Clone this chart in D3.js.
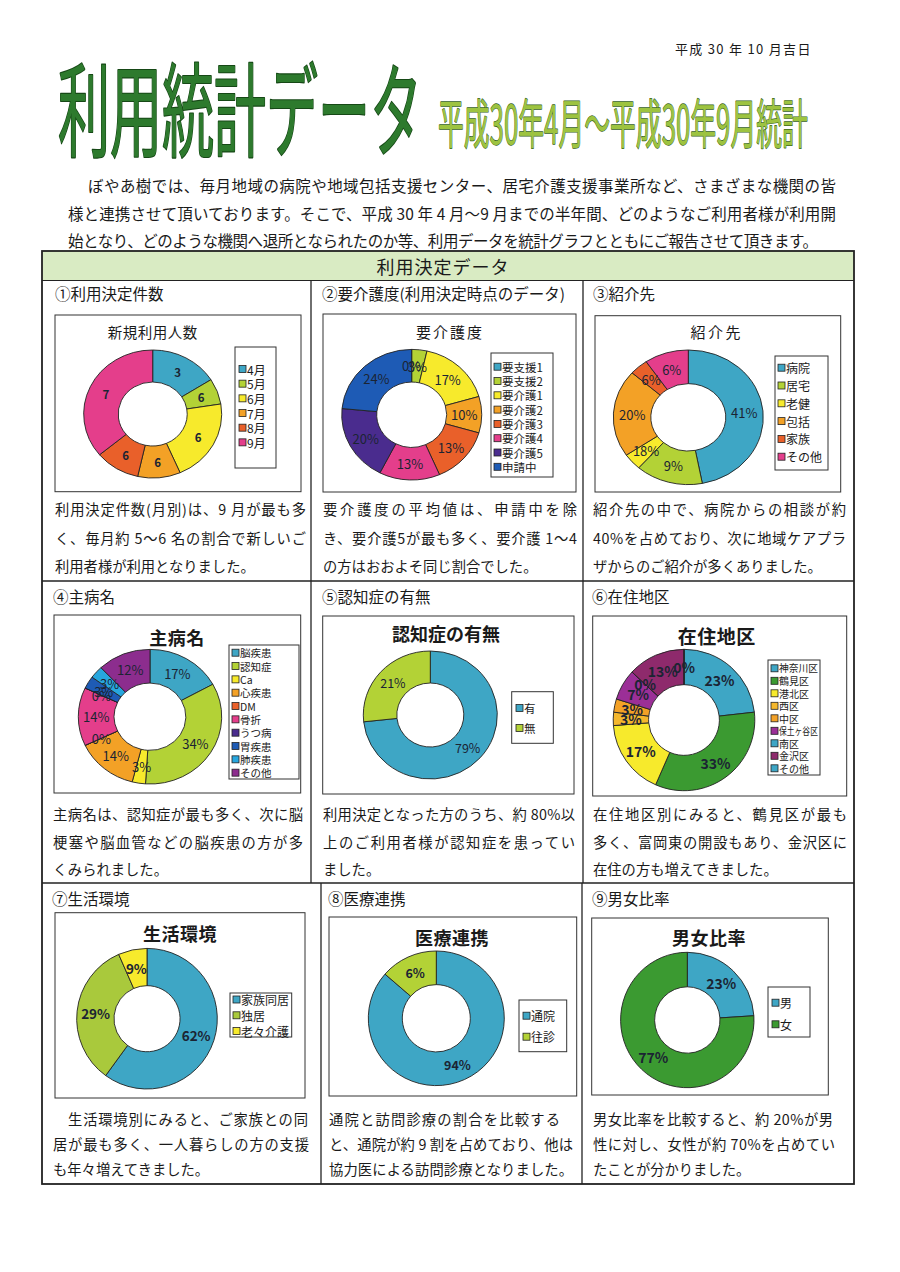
<!DOCTYPE html>
<html><head><meta charset="utf-8">
<script src="https://cdn.jsdelivr.net/npm/d3@7"></script>
<style>
html,body{margin:0;padding:0;background:#fff;}
svg{display:block;font-family:"Noto Sans CJK JP","Noto Sans",sans-serif;}
</style></head><body>
<svg id="page" width="900" height="1272"></svg>
<script>
// ---------------- DATA ----------------
// slice shares are read from the drawn slice angles; labels are the printed texts
const c1Cats = ["4月","5月","6月","7月","8月","9月"];
const c1Shares = [16, 6.5, 21, 10, 10.5, 36];
const c1Labels = ["3","6","6","6","6","7"];

const c2Cats = ["要支援1","要支援2","要介護1","要介護2","要介護3","要介護4","要介護5","申請中"];
const c2Shares = [0, 3.5, 17, 9, 14, 14, 19, 23.5];
const c2Labels = ["0%","3%","17%","10%","13%","13%","20%","24%"];

const c3Cats = ["病院","居宅","老健","包括","家族","その他"];
const c3Shares = [47, 14.5, 4, 21, 4, 9.5];
const c3Labels = ["41%","9%","18%","20%","6%","6%"];

const c4Cats = ["脳疾患","認知症","Ca","心疾患","DM","骨折","うつ病","胃疾患","肺疾患","その他"];
const c4Shares = [17, 34, 3, 14, 0, 14, 0, 3, 3, 12];
const c4Labels = ["17%","34%","3%","14%","0%","14%","0%","3%","3%","12%"];

const c5Cats = ["有","無"];
const c5Shares = [73.3, 26.7];
const c5Labels = ["79%","21%"];

const c6Cats = ["神奈川区","鶴見区","港北区","西区","中区","保土ヶ谷区","南区","金沢区","その他"];
const c6Shares = [23, 33, 17, 3, 3, 7, 0, 13, 0];
const c6Labels = ["23%","33%","17%","3%","3%","7%","0%","13%","0%"];

const c7Cats = ["家族同居","独居","老々介護"];
const c7Shares = [60, 33.4, 6.6];
const c7Labels = ["62%","29%","9%"];

const c8Cats = ["通院","往診"];
const c8Shares = [86.4, 13.6];
const c8Labels = ["94%","6%"];

const c9Cats = ["男","女"];
const c9Shares = [24, 76];
const c9Labels = ["23%","77%"];

const chartTitles = ["新規利用人数","要介護度","紹介先","主病名","認知症の有無","在住地区","生活環境","医療連携","男女比率"];
const headings = ["①利用決定件数","②要介護度(利用決定時点のデータ)","③紹介先","④主病名","⑤認知症の有無","⑥在住地区","⑦生活環境","⑧医療連携","⑨男女比率"];
const captions = [
  ["利用決定件数(月別)は、9 月が最も多","く、毎月約 5～6 名の割合で新しいご","利用者様が利用となりました。"],
  ["要介護度の平均値は、申請中を除","き、要介護5が最も多く、要介護 1～4","の方はおおよそ同じ割合でした。"],
  ["紹介先の中で、病院からの相談が約","40%を占めており、次に地域ケアプラ","ザからのご紹介が多くありました。"],
  ["主病名は、認知症が最も多く、次に脳","梗塞や脳血管などの脳疾患の方が多","くみられました。"],
  ["利用決定となった方のうち、約 80%以","上のご利用者様が認知症を患ってい","ました。"],
  ["在住地区別にみると、鶴見区が最も","多く、富岡東の開設もあり、金沢区に","在住の方も増えてきました。"],
  ["　生活環境別にみると、ご家族との同","居が最も多く、一人暮らしの方の支援","も年々増えてきました。"],
  ["通院と訪問診療の割合を比較する","と、通院が約 9 割を占めており、他は","協力医による訪問診療となりました。"],
  ["男女比率を比較すると、約 20%が男","性に対し、女性が約 70%を占めてい","たことが分かりました。"]
];
const pageDate = "平成 30 年 10 月吉日";
const pageTitle = "利用統計データ";
const pageSubtitle = "平成30年4月～平成30年9月統計";
const intro = [
  "ぼやあ樹では、毎月地域の病院や地域包括支援センター、居宅介護支援事業所など、さまざまな機関の皆",
  "様と連携させて頂いております。そこで、平成 30 年 4 月～9 月までの半年間、どのようなご利用者様が利用開",
  "始となり、どのような機関へ退所となられたのか等、利用データを統計グラフとともにご報告させて頂きます。"
];
const sectionTitle = "利用決定データ";

// ---------------- STYLE ----------------
const C = {
  teal:"#3ea6c5", yg:"#b3d236", yellow:"#f7ea2c", orange:"#f3a126", red:"#e9602a",
  pink:"#e43e8b", dpurple:"#4a2c8e", blue:"#1e5bb5", lblue:"#27a6de", purple:"#8c2d8e",
  green:"#3b9a31", gold:"#f4b72c", maroon:"#8e2a6c", hpurple:"#9b2f97"
};
const ink = "#1a1a1a";
const svg = d3.select("#page");
svg.append("rect").attr("width",900).attr("height",1272).attr("fill","#fff");

function txt(s, x, y, o = {}) {
  const t = svg.append("text").attr("x", x).attr("y", y).text(s)
    .attr("dominant-baseline", "central")
    .attr("font-size", o.size || 14.3)
    .attr("fill", o.fill || ink);
  if (o.anchor) t.attr("text-anchor", o.anchor);
  if (o.weight) t.attr("font-weight", o.weight);
  if (o.ls) t.attr("letter-spacing", o.ls);
  if (o.len) t.attr("textLength", o.len).attr("lengthAdjust", "spacing");
  if (o.stroke) t.attr("stroke", o.stroke).attr("stroke-width", o.sw || 1).attr("paint-order", "stroke").attr("stroke-linejoin","round");
  if (o.fit) {
    // squeeze horizontally to the target width (condensed display face)
    const natural = t.node().getComputedTextLength();
    const k = o.fit / natural;
    t.attr("transform", `translate(${x},0) scale(${k},1) translate(${-x},0)`);
  }
  return t;
}

// ---------------- HEADER ----------------
txt(pageDate, 675, 48, {size: 13, ls: 1.3});
txt(pageTitle, 58, 104, {size: 102, fit: 364, fill: "#2d7a2d", stroke: "#164816", sw: 2.2});
txt(pageSubtitle, 438, 121, {size: 53, fit: 370, fill: "#9dc340", stroke: "#34601a", sw: 1.4});
txt(intro[0], 88, 185, {size: 15.5, len: 748});
txt(intro[1], 68, 213, {size: 15.5, len: 768});
txt(intro[2], 68, 240, {size: 15.5, len: 750});

// ---------------- FRAME ----------------
svg.append("rect").attr("x", 42).attr("y", 251).attr("width", 812).attr("height", 29).attr("fill", "#d9ebc3");
const frame = svg.append("g").attr("stroke", "#222").attr("fill", "none");
frame.append("rect").attr("x", 42).attr("y", 251).attr("width", 812).attr("height", 933).attr("stroke-width", 1.8);
frame.append("line").attr("x1", 42).attr("x2", 854).attr("y1", 280.5).attr("y2", 280.5).attr("stroke-width", 1.2);
frame.append("line").attr("x1", 42).attr("x2", 854).attr("y1", 581).attr("y2", 581).attr("stroke-width", 1.4);
frame.append("line").attr("x1", 42).attr("x2", 854).attr("y1", 883).attr("y2", 883).attr("stroke-width", 1.4);
[[311, 280.5, 883], [583, 280.5, 883], [321, 883, 1184], [582, 883, 1184]].forEach(([x, a, b]) =>
  frame.append("line").attr("x1", x).attr("x2", x).attr("y1", a).attr("y2", b).attr("stroke-width", 1.3));
txt(sectionTitle, 443, 265.5, {size: 18, anchor: "middle", ls: 1});

// ---------------- PANELS ----------------
const panels = [
  {hx:55, hy:293, cx0:55, capY:[508,537,565], w:[251,251,null], box:[55,315,301,491.7]},
  {hx:322, hy:293, cx0:323, capY:[508,537,565], w:[254,254,null], box:[323,314,576,492]},
  {hx:593, hy:293, cx0:593, capY:[508,537,565], w:[253,253,null], box:[595,315.7,840.7,492]},
  {hx:53, hy:596, cx0:53, capY:[813,841.5,868], w:[250,250,null], box:[54,615,300.7,793]},
  {hx:322, hy:596, cx0:323, capY:[813,841.5,868], w:[252,252,null], box:[322.7,616,574,794]},
  {hx:592, hy:596, cx0:593, capY:[813,841.5,868], w:[254,254,null], box:[592.7,616,846.7,796]},
  {hx:52, hy:898, cx0:53, capY:[1118,1143,1168], w:[255,256,null], box:[55,912.7,305,1098]},
  {hx:328, hy:898, cx0:329, capY:[1118,1143,1168], w:[231,244,244], box:[329,917,576.7,1096]},
  {hx:592, hy:898, cx0:593, capY:[1118,1143,1168], w:[240,242,null], box:[591.7,918,828.3,1095]}
];
panels.forEach((p, i) => {
  txt(headings[i], p.hx, p.hy, {size: 15.5});
  captions[i].forEach((line, j) => {
    const o = {size: 14.3};
    if (p.w[j]) o.len = p.w[j];
    txt(line, p.cx0, p.capY[j], o);
  });
  const [x1, y1, x2, y2] = p.box;
  svg.append("rect").attr("x", x1).attr("y", y1).attr("width", x2 - x1).attr("height", y2 - y1)
    .attr("fill", "#fff").attr("stroke", "#333").attr("stroke-width", 1);
});

// chart titles
const titleSpec = [
  [152.7, 331.7, 14.5, 400, 0.5], [450, 331, 15, 400, 2], [716.7, 331.7, 15, 400, 2.5],
  [177, 636.7, 18, 700, 0.5], [446, 633.3, 18, 700, 0], [716.7, 635, 19, 700, 0.5],
  [180, 932.7, 18, 700, 0.5], [452, 936.7, 18, 700, 0.5], [709, 936.7, 18, 700, 0.5]
];
titleSpec.forEach(([x, y, s, w, ls], i) => txt(chartTitles[i], x, y, {size: s, weight: w, anchor: "middle", ls: ls}));

// ---------------- DONUTS ----------------
function donut(cfg) {
  const {cx, cy, rx, ry, inner, shares, labels, colors, lsize, lweight, lfill} = cfg;
  const sx = rx / ry;
  const arcs = d3.pie().sort(null).value(d => d)(shares);
  const arc = d3.arc().innerRadius(ry * inner).outerRadius(ry);
  const g = svg.append("g").attr("transform", `translate(${cx},${cy})`);
  g.append("g").attr("transform", `scale(${sx},1)`)
    .selectAll("path").data(arcs).join("path")
    .attr("d", arc)
    .attr("fill", (d, i) => colors[i])
    .attr("stroke", "#222").attr("stroke-width", 0.9)
    .attr("vector-effect", "non-scaling-stroke");
  g.selectAll("text").data(arcs).join("text")
    .attr("x", d => arc.centroid(d)[0] * sx)
    .attr("y", d => arc.centroid(d)[1])
    .attr("text-anchor", "middle").attr("dominant-baseline", "central")
    .attr("font-size", lsize).attr("font-weight", lweight || 400)
    .attr("fill", lfill || "#1b2433")
    .text((d, i) => labels[i]);
}
function legend(cfg) {
  const {box, sx, tx, y0, dy, size, cats, colors, weight} = cfg;
  const [x1, y1, x2, y2] = box;
  svg.append("rect").attr("x", x1).attr("y", y1).attr("width", x2 - x1).attr("height", y2 - y1)
    .attr("fill", "#fff").attr("stroke", "#333").attr("stroke-width", 1);
  const g = svg.append("g");
  const maxW = x2 - tx - 2;
  cats.forEach((c, i) => {
    const y = y0 + i * dy;
    g.append("rect").attr("x", sx).attr("y", y - 3.5).attr("width", 7).attr("height", 7)
      .attr("fill", colors[i]).attr("stroke", "#222").attr("stroke-width", 0.8);
    const t = g.append("text").attr("x", tx).attr("y", y).attr("dominant-baseline", "central")
      .attr("font-size", size).attr("font-weight", weight || 400).attr("fill", ink).text(c);
    const w = t.node().getComputedTextLength();
    if (w > maxW) t.attr("transform", `translate(${tx},0) scale(${maxW / w},1) translate(${-tx},0)`);
  });
}

const col1 = [C.teal, C.yg, C.yellow, C.orange, C.red, C.pink];
const col2 = [C.teal, C.yg, C.yellow, C.orange, C.red, C.pink, C.dpurple, C.blue];
const col3 = [C.teal, C.yg, C.yellow, C.orange, C.red, C.pink];
const col4 = [C.teal, C.yg, C.yellow, C.orange, C.red, C.pink, C.dpurple, C.blue, C.lblue, C.purple];
const col5 = [C.teal, C.yg];
const col6 = [C.teal, C.green, C.yellow, C.gold, C.orange, C.hpurple, C.teal, C.maroon, C.teal];
const col7 = [C.teal, "#a9c93c", C.yellow];
const col8 = [C.teal, C.yg];
const col9 = [C.teal, C.green];

donut({cx:152.7, cy:414, rx:69, ry:64, inner:0.5, shares:c1Shares, labels:c1Labels, colors:col1, lsize:11.5, lweight:700});
legend({box:[235,347,276,468], sx:239, tx:247, y0:369, dy:14.67, size:12, cats:c1Cats, colors:col1});

donut({cx:411.7, cy:414.7, rx:70, ry:65.3, inner:0.5, shares:c2Shares, labels:c2Labels, colors:col2, lsize:13});
legend({box:[491,353,553,477], sx:494, tx:502, y0:366.7, dy:14.3, size:11.5, cats:c2Cats, colors:col2});

donut({cx:688.3, cy:417.3, rx:75, ry:67.3, inner:0.5, shares:c3Shares, labels:c3Labels, colors:col3, lsize:13});
legend({box:[775,356,828,470], sx:778, tx:786, y0:367.7, dy:17.8, size:12, cats:c3Cats, colors:col3});

donut({cx:150, cy:716.7, rx:71.7, ry:67.3, inner:0.5, shares:c4Shares, labels:c4Labels, colors:col4, lsize:13});
legend({box:[229,645,299,779], sx:232, tx:240, y0:652.7, dy:13.33, size:10.5, cats:c4Cats, colors:col4});

donut({cx:430.3, cy:715, rx:67, ry:64, inner:0.5, shares:c5Shares, labels:c5Labels, colors:col5, lsize:12.5});
legend({box:[511.7,691.7,553.3,743.3], sx:516, tx:524, y0:708, dy:20, size:11.5, cats:c5Cats, colors:col5});

donut({cx:684, cy:720, rx:70.8, ry:70.7, inner:0.5, shares:c6Shares, labels:c6Labels, colors:col6, lsize:14, lweight:700});
legend({box:[768,660,820,775], sx:771, tx:779, y0:668.3, dy:12.5, size:10, cats:c6Cats, colors:col6});

donut({cx:147, cy:1018.7, rx:70.3, ry:70.3, inner:0.47, shares:c7Shares, labels:c7Labels, colors:col7, lsize:13.5, lweight:700});
legend({box:[230,993,291.7,1037], sx:233, tx:241, y0:999.5, dy:15.8, size:12, cats:c7Cats, colors:col7});

donut({cx:436.3, cy:1018.3, rx:68, ry:67.3, inner:0.5, shares:c8Shares, labels:c8Labels, colors:col8, lsize:12.5, lweight:700});
legend({box:[519,1000,566.7,1051.7], sx:523, tx:531, y0:1015.7, dy:21, size:12, cats:c8Cats, colors:col8});

donut({cx:687.3, cy:1020, rx:66.7, ry:67.7, inner:0.49, shares:c9Shares, labels:c9Labels, colors:col9, lsize:14, lweight:700});
legend({box:[768,987,810,1037], sx:772, tx:780, y0:1002.7, dy:21.6, size:12, cats:c9Cats, colors:col9});
</script>
</body></html>
